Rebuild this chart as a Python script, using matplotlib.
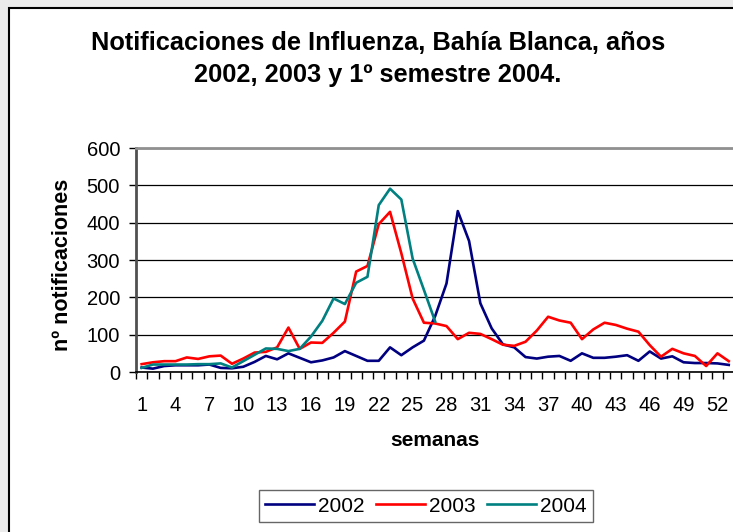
import matplotlib.pyplot as plt
import numpy as np
from matplotlib.patches import Rectangle
from matplotlib.ticker import FixedLocator

plt.rcParams['font.family'] = ['Liberation Sans', 'DejaVu Sans']

# weekly notifications
y2002 = [12, 9, 16, 18, 18, 18, 20, 11, 10, 14, 27, 43, 34, 50, 38, 26, 31, 39, 56, 43,
         30, 30, 66, 45, 66, 84, 150, 237, 431, 351, 184, 117, 74, 66, 40, 36, 41, 43, 30, 50,
         38, 38, 41, 45, 30, 55, 36, 42, 26, 24, 24, 23, 19]
y2003 = [21, 26, 29, 29, 39, 35, 42, 44, 22, 36, 52, 54, 66, 119, 62, 79, 78, 105, 135, 269,
         284, 396, 429, 318, 197, 132, 130, 123, 88, 105, 102, 88, 73, 70, 81, 111, 148, 138, 132, 88,
         114, 132, 126, 116, 108, 72, 41, 62, 50, 43, 16, 50, 29]
y2004 = [11, 20, 20, 20, 20, 21, 21, 23, 12, 29, 46, 63, 62, 56, 62, 95, 137, 197, 182, 239,
         255, 447, 491, 462, 304, 220, 135]
series = ["2002", "2003", "2004"]
colors = ["#000080", "#ff0000", "#008080"]

fig = plt.figure(figsize=(7.33, 5.32), dpi=100)
fig.patch.set_facecolor("#ebebeb")
fig.patches.append(Rectangle((9/733, -0.1), 1.2, 1 - 8/532 + 0.1, transform=fig.transFigure,
                             facecolor="white", edgecolor="black", linewidth=1.5, zorder=-10))

ax = fig.add_axes([136/733, 1 - 372/532, 598.4/733, 224/532])
ax.set_zorder(1)
ax.set_facecolor("white")
for data, name, c in zip([y2002, y2003, y2004], series, colors):
    weeks = np.arange(1, len(data) + 1)
    ax.plot(weeks, data, color=c, linewidth=1.9, label=name)

ax.set_xlim(0.5, 53.5)
ax.set_ylim(0, 600)
ax.set_yticks(np.arange(0, 601, 100))
ax.yaxis.grid(True, color="black", linewidth=0.9)
ax.set_axisbelow(True)
ax.tick_params(axis="y", labelsize=14.5, length=5, width=1, direction="out", pad=6.5)

ax.set_xticks(np.arange(1, 54, 3))
ax.set_xticklabels([str(w) for w in range(1, 54, 3)])
ax.xaxis.set_minor_locator(FixedLocator(np.arange(0.5, 54, 1)))
ax.tick_params(axis="x", which="major", length=0, labelsize=14.5, pad=17)
ax.tick_params(axis="x", which="minor", length=5, width=1, direction="out")

ax.spines["left"].set_color("#505050")
ax.spines["left"].set_linewidth(2)
ax.spines["bottom"].set_color("black")
ax.spines["bottom"].set_linewidth(1.2)
ax.spines["top"].set_color("#909090")
ax.spines["top"].set_linewidth(2)
ax.spines["right"].set_visible(False)

fig.text(378/733, 1 - 43/532, "Notificaciones de Influenza, Bahía Blanca, años",
         ha="center", va="center", fontsize=18.3, fontweight="bold")
fig.text(378/733, 1 - 75/532, "2002, 2003 y 1º semestre 2004.",
         ha="center", va="center", fontsize=18.3, fontweight="bold")
fig.text(62/733, 1 - 265/532, "nº notificaciones", rotation=90,
         ha="center", va="center", fontsize=15.5, fontweight="bold")
fig.text(435/733, 1 - 440/532, "semanas", ha="center", va="center",
         fontsize=15, fontweight="bold")

leg = fig.legend(loc="center", bbox_to_anchor=(426/733, 1 - 506/532), ncol=3,
                 fontsize=15, frameon=True, fancybox=False, handlelength=2.35,
                 handletextpad=0.2, columnspacing=0.55, borderpad=0.3, borderaxespad=0)
leg.get_frame().set_edgecolor("#404040")
leg.get_frame().set_linewidth(1)

fig.savefig("out.png", dpi=100, facecolor=fig.get_facecolor())
